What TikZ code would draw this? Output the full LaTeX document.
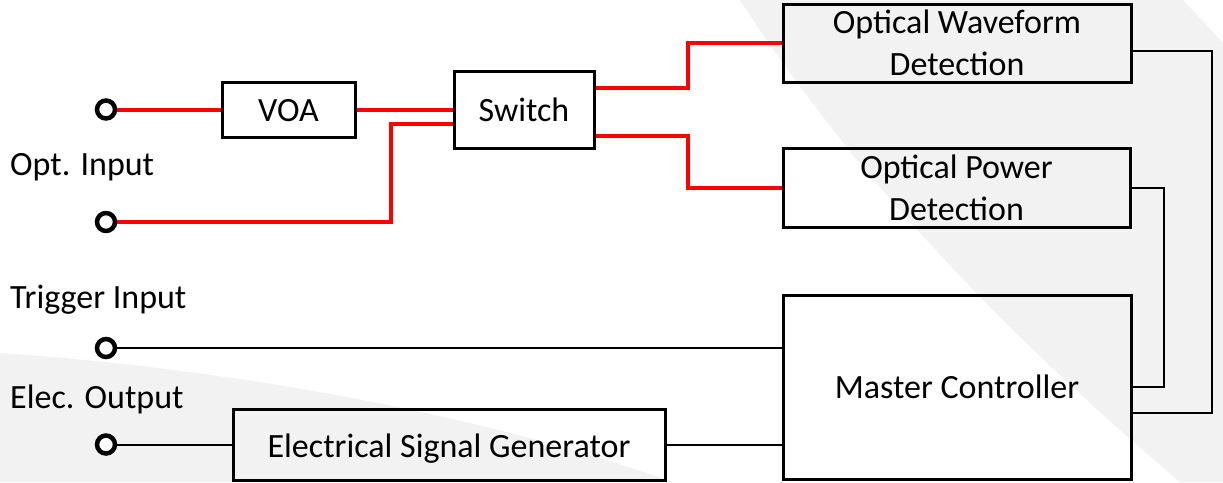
\documentclass[tikz,border=0pt]{standalone}
\usepackage{fontspec}
\setmainfont{Carlito}
\usetikzlibrary{calc}
\definecolor{bggray}{RGB}{242,242,242}
\definecolor{optred}{RGB}{255,0,0}
\pgfdeclarelayer{bglayer}
\pgfdeclarelayer{linelayer}
\pgfsetlayers{bglayer,linelayer,main}
\tikzset{
  blk/.style={draw=black, line width=3pt, inner sep=0pt, font=\fontsize{34}{42}\selectfont, align=center},
  oneline/.style={text height=23pt, text depth=0pt},
  term/.style={circle, draw=black, fill=white, line width=4.5pt, minimum size=18pt, inner sep=0pt},
  lbl/.style={anchor=base west, inner sep=0pt, font=\fontsize{34}{42}\selectfont},
  fiber/.style={draw=optred, line width=4pt},
  wire/.style={draw=black, line width=2pt},
}
\begin{document}
\begin{tikzpicture}[x=1pt,y=-1pt]
\useasboundingbox (0,0) rectangle (1223,482);
% background shapes
\begin{pgfonlayer}{bglayer}
\fill[white] (0,0) rectangle (1223,482);
\fill[bggray] (740,0) .. controls (850,170) and (1000,330) .. (1180,482) -- (1223,482) -- (1223,43) -- (1183,0) -- cycle;
\fill[bggray] (0,353) .. controls (250,370) and (500,420) .. (672,482) -- (0,482) -- cycle;
\end{pgfonlayer}

% blocks
\node[blk, oneline, minimum width=133pt, minimum height=55pt] (voa) at (288.5,109.5) {VOA};
\node[blk, oneline, minimum width=140pt, minimum height=77pt] (sw) at (524,109.5) {Switch};
\node[blk, minimum width=348pt, minimum height=78pt] (owd) at (957,43) {Optical Waveform\\Detection};
\node[blk, minimum width=347pt, minimum height=79pt] (opd) at (956.5,187.5) {Optical Power\\Detection};
\node[blk, text height=22pt, text depth=0pt, minimum width=348pt, minimum height=184pt] (mc) at (957,387) {Master Controller};
\node[blk, text height=25pt, text depth=0pt, minimum width=432pt, minimum height=71pt] (esg) at (449,444.5) {Electrical Signal Generator};

% terminals
\node[term] (t1) at (106,109.5) {};
\node[term] (t2) at (106,222) {};
\node[term] (t3) at (106,348) {};
\node[term] (t4) at (106,444.5) {};

% labels
\node[lbl] (l1) at (10,175) {Opt. Input};
\node[lbl] (l2) at (10,308) {Trigger Input};
\node[lbl] (l3) at (10,408) {Elec. Output};

% junction coordinates
\coordinate (j1) at (391,124);
\coordinate (s1) at ($(sw.east)+(0,-21.5)$);
\coordinate (s2) at ($(sw.east)+(0,26.5)$);
\coordinate (k1) at (688,0);
\coordinate (w1) at ($(owd.east)+(0,8)$);
\coordinate (r1) at (1212,0);
\coordinate (r2) at (1164,0);
\coordinate (m1) at ($(mc.east)+(0,26)$);

\begin{pgfonlayer}{linelayer}
% optical (red) connections
\draw[fiber] (t1.center) -- (t1.center -| voa.west);
\draw[fiber] (voa.east) -- (voa.east -| sw.west);
\draw[fiber] (t2.center) -| (j1) -- (j1 -| sw.west);
\draw[fiber] (s1) -- (s1 -| k1) |- (owd.west);
\draw[fiber] (s2) -- (s2 -| k1) |- (opd.west);
% electrical connections
\draw[wire] (t3.center) -- (t3.center -| mc.west);
\draw[wire] (t4.center) -- (t4.center -| esg.west);
\draw[wire] (esg.east) -- (esg.east -| mc.west);
\draw[wire] (w1) -- (w1 -| r1) |- (m1);
\draw[wire] (opd.east) -- (opd.east -| r2) |- (mc.east);
\end{pgfonlayer}
\end{tikzpicture}
\end{document}
